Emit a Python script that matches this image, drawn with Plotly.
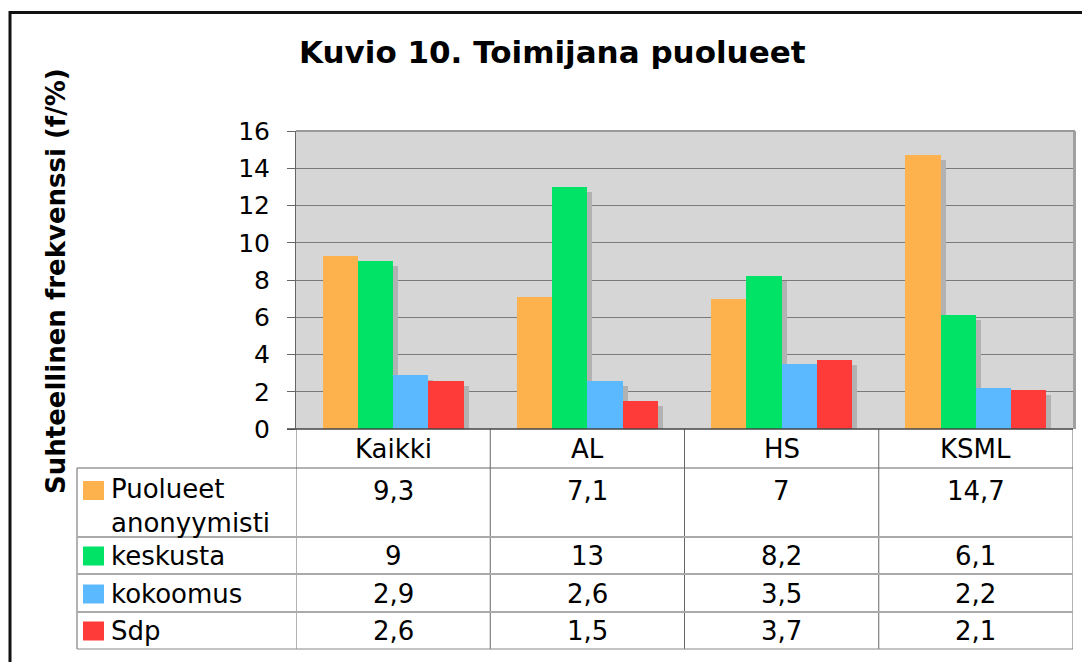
import plotly.graph_objects as go

# ---- data ----
categories = ["Kaikki", "AL", "HS", "KSML"]
series_names = ["Puolueet<br>anonyymisti", "keskusta", "kokoomus", "Sdp"]
puolueet_anonyymisti = [9.3, 7.1, 7, 14.7]
keskusta = [9, 13, 8.2, 6.1]
kokoomus = [2.9, 2.6, 3.5, 2.2]
sdp = [2.6, 1.5, 3.7, 2.1]
y_ticks = [0, 2, 4, 6, 8, 10, 12, 14, 16]

series_values = [puolueet_anonyymisti, keskusta, kokoomus, sdp]
colors = ["#FDB24E", "#00E366", "#5BB9FF", "#FF3B3A"]
shadow_color = "#B2B2B2"

W, H = 1082, 662
L, R, T, B = 296, 9, 131, 233
PW = W - L - R
PH = H - T - B
FONT = "DejaVu Sans"
TS = 26


def px(x):
    return (x - L) / PW


def py(y):
    return (H - B - y) / PH


bar_w = 35.3 / (PW / len(categories))
dx = 5 / (PW / len(categories))
dy = 5 / (PH / 16)

fig = go.Figure()

# shadows first
for s, vals in enumerate(series_values):
    xs = [i + (s - 1.5) * bar_w + dx for i in range(len(categories))]
    fig.add_trace(go.Bar(x=xs, y=[v - dy for v in vals], width=bar_w,
                         marker=dict(color=shadow_color, line=dict(width=0)),
                         showlegend=False, hoverinfo="skip"))
for s, vals in enumerate(series_values):
    xs = [i + (s - 1.5) * bar_w for i in range(len(categories))]
    fig.add_trace(go.Bar(x=xs, y=vals, width=bar_w, name=series_names[s],
                         marker=dict(color=colors[s], line=dict(width=0)),
                         showlegend=False))

shapes = []
ann = []

# outer frame
shapes.append(dict(type="rect", xref="paper", yref="paper",
                   x0=px(10), x1=px(1095), y0=py(12.5), y1=py(700),
                   line=dict(color="#111", width=3)))
# plot border top / right
shapes.append(dict(type="line", xref="paper", yref="paper", x0=px(296), x1=px(1075),
                   y0=py(131), y1=py(131), line=dict(color="#999", width=2)))
shapes.append(dict(type="line", xref="paper", yref="paper", x0=px(1074.5), x1=px(1074.5),
                   y0=py(131), y1=py(429), line=dict(color="#A0A0A0", width=3)))

# table geometry
rows_y = [429, 468, 537, 574, 612, 649]
col_x = [-0.5, 0.5, 1.5, 2.5, 3.5]
table_left = 77
dark = "#666"
light = "#AAAAAA"

# vertical column lines
for i, cx in enumerate(col_x):
    shapes.append(dict(type="line", xref="x", yref="paper", x0=cx, x1=cx,
                       y0=py(429), y1=py(649), line=dict(color=dark, width=1)))
# left legend border
shapes.append(dict(type="line", xref="paper", yref="paper", x0=px(table_left), x1=px(table_left),
                   y0=py(468), y1=py(649), line=dict(color=dark, width=1)))
# horizontal lines
shapes.append(dict(type="line", xref="paper", yref="paper", x0=px(table_left), x1=px(1073),
                   y0=py(468), y1=py(468), line=dict(color=dark, width=1)))
for yy in rows_y[2:5]:
    shapes.append(dict(type="line", xref="paper", yref="paper", x0=px(table_left), x1=px(1073),
                       y0=py(yy), y1=py(yy), line=dict(color=light, width=2)))
shapes.append(dict(type="line", xref="paper", yref="paper", x0=px(table_left), x1=px(1073),
                   y0=py(649), y1=py(649), line=dict(color="#888", width=1)))
# zero line extended to tick
shapes.append(dict(type="line", xref="paper", yref="paper", x0=px(287), x1=px(1073),
                   y0=py(429), y1=py(429), line=dict(color="#444", width=1.5)))

# header labels
for i, c in enumerate(categories):
    ann.append(dict(x=i, y=py(448.5), xref="x", yref="paper", text=c, showarrow=False,
                    font=dict(family=FONT, size=TS, color="black"),
                    xanchor="center", yanchor="middle"))

# legend rows
row_centers = [490.5, 556, 594, 631]
for s, vals in enumerate(series_values):
    yc = row_centers[s]
    shapes.append(dict(type="rect", xref="paper", yref="paper", x0=px(83), x1=px(104),
                       y0=py(yc - 9.5), y1=py(yc + 9.5), fillcolor=colors[s],
                       line=dict(width=0)))
    if s == 0:
        ann.append(dict(x=px(109), y=py(472), xref="paper", yref="paper", text=series_names[s],
                        showarrow=False, xanchor="left", yanchor="top", align="left",
                        font=dict(family=FONT, size=TS, color="black")))
    else:
        ann.append(dict(x=px(109), y=py(yc), xref="paper", yref="paper", text=series_names[s],
                        showarrow=False, xanchor="left", yanchor="middle",
                        font=dict(family=FONT, size=TS, color="black")))
    for i, v in enumerate(vals):
        ann.append(dict(x=i, y=py(yc), xref="x", yref="paper",
                        text=f"{v:g}".replace(".", ","), showarrow=False,
                        xanchor="center", yanchor="middle",
                        font=dict(family=FONT, size=TS, color="black")))

# title
ann.append(dict(x=px(552), y=py(52), xref="paper", yref="paper",
                text="<b>Kuvio 10. Toimijana puolueet</b>", showarrow=False,
                font=dict(family=FONT, size=31, color="black"),
                xanchor="center", yanchor="middle"))
# y-axis title
ann.append(dict(x=px(56), y=py(281), xref="paper", yref="paper",
                text="<b>Suhteellinen frekvenssi (f/%)</b>", showarrow=False, textangle=-90,
                font=dict(family=FONT, size=26, color="black"),
                xanchor="center", yanchor="middle"))

fig.update_layout(
    width=W, height=H,
    margin=dict(l=L, r=R, t=T, b=B, pad=0),
    paper_bgcolor="white", plot_bgcolor="#D6D6D6",
    barmode="overlay", bargap=0, showlegend=False,
    shapes=shapes, annotations=ann,
    xaxis=dict(range=[-0.5, 3.5], showticklabels=False, showgrid=False, zeroline=False,
               showline=False, fixedrange=True),
    yaxis=dict(range=[0, 16], tickvals=y_ticks, showgrid=True, gridcolor="#7A7A7A",
               gridwidth=1, zeroline=False, showline=True, linecolor="#666", linewidth=1,
               ticks="outside", ticklen=8, tickcolor="#666", ticklabelstandoff=12,
               tickfont=dict(family=FONT, size=25, color="black"), fixedrange=True),
)

fig.write_html("out.html", config={"displayModeBar": False},
               post_script="document.body.style.margin='0px';document.body.style.overflow='hidden';")
